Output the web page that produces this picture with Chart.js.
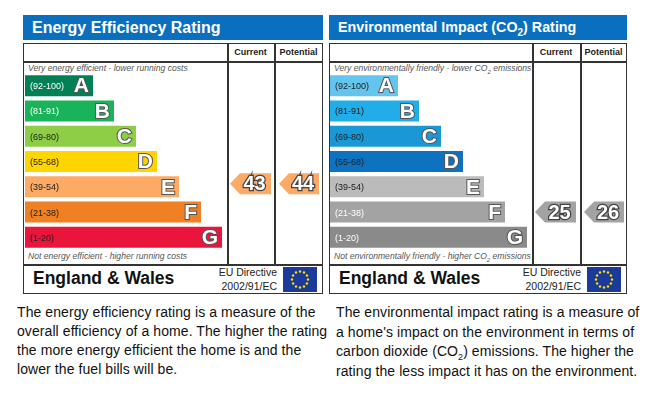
<html>
<head>
  <script src="https://cdn.jsdelivr.net/npm/chart.js@4.4.0/dist/chart.umd.min.js"></script>
  <style>
    body { margin: 0; padding: 0; background: #fff; font-family: 'Liberation Sans', Arial, sans-serif; }
    .abs { position: absolute; }
    .head { background: #0b6fc0; color: #fff; font-weight: bold; font-size: 16px; line-height: 25px; padding-left: 9px; box-sizing: border-box; height: 25px; }
    .frame { border: 1.5px solid #333; box-sizing: border-box; }
    .hl { height: 1.5px; background: #333; }
    .vl { width: 1.5px; background: #333; }
    .colhead { font-size: 9px; font-weight: bold; color: #222; text-align: center; }
    .note { font-size: 8.6px; font-style: italic; color: #555; white-space: nowrap; }
    .ew { font-size: 17.5px; font-weight: bold; color: #111; }
    .eu { font-size: 10.5px; color: #222; text-align: right; line-height: 14px; }
    .para { font-size: 14px; letter-spacing: 0.08px; color: #111; white-space: nowrap; }
    sub { line-height: 0; }
  </style>
</head>
<body>

<div class="abs head" style="left:23px; top:15px; width:300px;">Energy Efficiency Rating</div>
<div class="abs head" style="left:329px; top:15px; width:298px; font-size:14.3px;">Environmental Impact (CO<sub style="font-size:10px">2</sub>) Rating</div>

<div id="panels"></div>

<canvas id="ee" class="abs" width="296" height="177" style="left:25px; top:73px;"></canvas>
<canvas id="env" class="abs" width="296" height="177" style="left:330px; top:73px;"></canvas>

<div class="abs para" style="left:17px; top:303px; line-height:19px;">
  The energy efficiency rating is a measure of the<br>
  overall efficiency of a home. The higher the rating<br>
  the more energy efficient the home is and the<br>
  lower the fuel bills will be.
</div>
<div class="abs para" style="left:336px; top:303px; line-height:19.7px;">
  The environmental impact rating is a measure of<br>
  a home's impact on the environment in terms of<br>
  carbon dioxide (CO<sub style="font-size:9px">2</sub>) emissions. The higher the<br>
  rating the less impact it has on the environment.
</div>

<script>
  const bands = ['A', 'B', 'C', 'D', 'E', 'F', 'G']
  const ranges = ['(92-100)', '(81-91)', '(69-80)', '(55-68)', '(39-54)', '(21-38)', '(1-20)']
  const bandMins = [92, 81, 69, 55, 39, 21, 1]

  const eeBarLengths = [68, 89, 111, 132, 154, 176, 197]
  const envBarLengths = [68, 89, 111, 133, 154, 175, 197]

  const eeColors = ['#008054', '#19b459', '#8dce46', '#ffd500', '#fcaa65', '#ef8023', '#e9153b']
  const envColors = ['#63c4ee', '#21aee8', '#1a98d6', '#0d72c0', '#bbbbbb', '#a3a3a3', '#8a8a8a']

  const eeLabelColors = ['#fff', '#fff', '#222', '#222', '#222', '#222', '#222']
  const envLabelColors = ['#222', '#222', '#222', '#222', '#222', '#fff', '#fff']

  const eeCurrent = 43
  const eePotential = 44
  const envCurrent = 25
  const envPotential = 26

  // frame, columns and footer for each panel
  const panels = [
    {left: 23, width: 300, cur: 227, pot: 274,
     top: 'Very energy efficient - lower running costs',
     bottom: 'Not energy efficient - higher running costs'},
    {left: 329, width: 298, cur: 532, pot: 580,
     top: 'Very environmentally friendly - lower CO<sub style="font-size:6px">2</sub> emissions',
     bottom: 'Not environmentally friendly - higher CO<sub style="font-size:6px">2</sub> emissions'},
  ]
  let html = ''
  panels.forEach(p => {
    const right = p.left + p.width
    html += `<div class="abs frame" style="left:${p.left}px; top:43px; width:${p.width}px; height:251px;"></div>`
    html += `<div class="abs hl" style="left:${p.left}px; top:61px; width:${p.width}px;"></div>`
    html += `<div class="abs hl" style="left:${p.left}px; top:264px; width:${p.width}px;"></div>`
    html += `<div class="abs vl" style="left:${p.cur}px; top:43px; height:222px;"></div>`
    html += `<div class="abs vl" style="left:${p.pot}px; top:43px; height:222px;"></div>`
    html += `<div class="abs colhead" style="left:${p.cur}px; top:47px; width:${p.pot - p.cur}px;">Current</div>`
    html += `<div class="abs colhead" style="left:${p.pot}px; top:47px; width:${right - p.pot}px;">Potential</div>`
    html += `<div class="abs note" style="left:${p.left + 5}px; top:63px;">${p.top}</div>`
    html += `<div class="abs note" style="left:${p.left + 5}px; top:251px;">${p.bottom}</div>`
    html += `<div class="abs ew" style="left:${p.left + 10}px; top:268px;">England &amp; Wales</div>`
    html += `<div class="abs eu" style="left:${right - 140}px; top:265px; width:94px;">EU Directive<br>2002/91/EC</div>`
    let stars = ''
    for (let i = 0; i < 12; i++) {
      const a = i * Math.PI / 6
      stars += `<circle cx="${17 + 8 * Math.cos(a)}" cy="${12.5 + 8 * Math.sin(a)}" r="1.2" fill="#ffdd00"/>`
    }
    html += `<svg class="abs" style="left:${right - 40}px; top:267px;" width="34" height="25"><rect width="34" height="25" fill="#1b3a9a"/>${stars}</svg>`
  })
  document.getElementById('panels').innerHTML = html

  const bandOf = rating => bandMins.findIndex(m => rating >= m)

  const arrowPlugin = {
    id: 'epc',
    afterDatasetsDraw(chart, args, opts) {
      const ctx = chart.ctx
      const meta = chart.getDatasetMeta(0)
      const xs = chart.scales.x
      const ys = chart.scales.y
      ctx.save()
      // band letters and range text
      meta.data.forEach((bar, i) => {
        ctx.textBaseline = 'middle'
        ctx.font = '9px "Liberation Sans", Arial'
        ctx.textAlign = 'left'
        ctx.fillStyle = opts.labelColors[i]
        ctx.fillText(ranges[i], 5, bar.y + 1)
        ctx.font = 'bold 21px "Liberation Sans", Arial'
        ctx.textAlign = 'right'
        ctx.lineWidth = 2
        ctx.strokeStyle = '#555'
        ctx.strokeText(bands[i], bar.x - 4, bar.y + 1)
        ctx.fillStyle = '#fff'
        ctx.fillText(bands[i], bar.x - 4, bar.y + 1)
      })
      // current / potential arrows
      opts.arrows.forEach(a => {
        const b = bandOf(a.value)
        const yc = ys.getPixelForValue(b) + opts.arrowShift
        const h = meta.data[b].height
        const x0 = xs.getPixelForValue(a.from)
        const x1 = xs.getPixelForValue(a.to)
        const tip = 10
        ctx.beginPath()
        ctx.moveTo(x0, yc)
        ctx.lineTo(x0 + tip, yc - h / 2)
        ctx.lineTo(x1, yc - h / 2)
        ctx.lineTo(x1, yc + h / 2)
        ctx.lineTo(x0 + tip, yc + h / 2)
        ctx.closePath()
        ctx.fillStyle = opts.colors[b]
        ctx.fill()
        ctx.font = 'bold 20px "Liberation Sans", Arial'
        ctx.textAlign = 'center'
        ctx.textBaseline = 'middle'
        ctx.lineWidth = 2.5
        ctx.strokeStyle = '#444'
        const tx = (x0 + tip + x1) / 2 - 1
        ctx.strokeText(String(a.value), tx, yc + 1)
        ctx.fillStyle = '#fff'
        ctx.fillText(String(a.value), tx, yc + 1)
      })
      ctx.restore()
    }
  }

  const makeChart = (id, lengths, colors, labelColors, current, potential, shift) => new Chart(document.getElementById(id), {
    type: 'bar',
    data: {
      labels: bands,
      datasets: [{
        data: lengths,
        backgroundColor: colors,
        borderWidth: 0,
        barPercentage: 0.83,
        categoryPercentage: 1,
      }]
    },
    options: {
      indexAxis: 'y',
      responsive: false,
      animation: false,
      layout: {padding: 0},
      scales: {
        x: {display: false, min: 0, max: 296},
        y: {display: false},
      },
      plugins: {
        legend: {display: false},
        tooltip: {enabled: false},
        epc: {
          colors: colors,
          labelColors: labelColors,
          arrowShift: shift,
          arrows: [
            {value: current, from: 205, to: 246},
            {value: potential, from: 254, to: 294},
          ]
        }
      }
    },
    plugins: [arrowPlugin]
  })

  makeChart('ee', eeBarLengths, eeColors, eeLabelColors, eeCurrent, eePotential, -3)
  makeChart('env', envBarLengths, envColors, envLabelColors, envCurrent, envPotential, 0)
</script>
</body>
</html>
